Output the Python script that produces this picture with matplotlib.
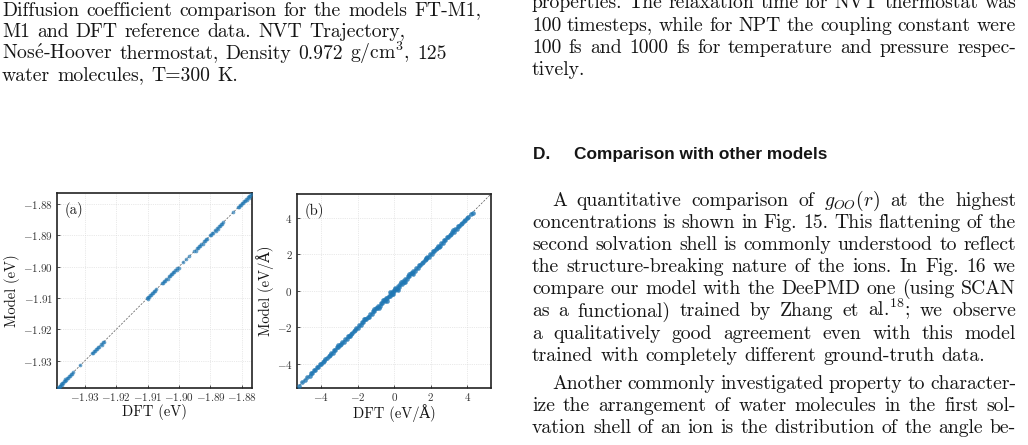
import matplotlib
matplotlib.use('Agg')
import matplotlib.pyplot as plt
from matplotlib.ticker import FuncFormatter

# ---------------- data ----------------
dft_energy = [
    -1.9385, -1.9383, -1.9380, -1.9378, -1.9376, -1.9373, -1.9371, -1.9368, -1.9366, -1.9363,
    -1.9361, -1.9358, -1.9355, -1.9352, -1.9349, -1.9346, -1.9343, -1.9339, -1.9336,
    -1.9316,
    -1.9277, -1.9274, -1.9270, -1.9267, -1.9264, -1.9260, -1.9257, -1.9253, -1.9249, -1.9246, -1.9242, -1.9238,
    -1.9103, -1.9100, -1.9098, -1.9095, -1.9092, -1.9089, -1.9086, -1.9083, -1.9080, -1.9077, -1.9074,
    -1.9054, -1.9050, -1.9047, -1.9043, -1.9040, -1.9036, -1.9033, -1.9029, -1.9026, -1.9022, -1.9019, -1.9015,
    -1.9012, -1.9008, -1.9005, -1.9001,
    -1.8988, -1.8979, -1.8968,
    -1.8951, -1.8947, -1.8943, -1.8940, -1.8936, -1.8932, -1.8929, -1.8925, -1.8921, -1.8917, -1.8913, -1.8910,
    -1.8901, -1.8898, -1.8894, -1.8891, -1.8887, -1.8884, -1.8880, -1.8877, -1.8873, -1.8869, -1.8866, -1.8862, -1.8859,
    -1.8828,
    -1.8812, -1.8809, -1.8806, -1.8803, -1.8800, -1.8797, -1.8794, -1.8791, -1.8788, -1.8785, -1.8782, -1.8779,
    -1.8776, -1.8773, -1.8771,
]
model_energy = [
    -1.9384, -1.9385, -1.9379, -1.9380, -1.9374, -1.9375, -1.9369, -1.9370, -1.9365, -1.9364,
    -1.9359, -1.9360, -1.9353, -1.9354, -1.9347, -1.9348, -1.9341, -1.9341, -1.9334,
    -1.9314,
    -1.9275, -1.9276, -1.9268, -1.9269, -1.9262, -1.9262, -1.9255, -1.9255, -1.9247, -1.9248, -1.9240, -1.9240,
    -1.9101, -1.9102, -1.9096, -1.9097, -1.9090, -1.9091, -1.9084, -1.9085, -1.9078, -1.9079, -1.9072,
    -1.9052, -1.9052, -1.9045, -1.9045, -1.9038, -1.9038, -1.9031, -1.9031, -1.9024, -1.9024, -1.9017, -1.9017,
    -1.9010, -1.9010, -1.9003, -1.9003,
    -1.8986, -1.8977, -1.8966,
    -1.8949, -1.8949, -1.8941, -1.8942, -1.8934, -1.8934, -1.8927, -1.8927, -1.8919, -1.8919, -1.8911, -1.8912,
    -1.8899, -1.8900, -1.8892, -1.8893, -1.8885, -1.8886, -1.8878, -1.8879, -1.8871, -1.8871, -1.8864, -1.8864, -1.8857,
    -1.8826,
    -1.8810, -1.8811, -1.8804, -1.8805, -1.8798, -1.8799, -1.8792, -1.8793, -1.8786, -1.8787, -1.8780, -1.8781,
    -1.8774, -1.8775, -1.8769,
]

dft_force = [
    -5.21, -5.02, -4.86, -4.74, -4.63, -4.55, -4.47, -4.38, -4.31, -4.22,
    -4.15, -4.07, -3.98, -3.91, -3.83, -3.76, -3.68, -3.59, -3.52, -3.44,
    -3.37, -3.29, -3.21, -3.14, -3.06, -2.98, -2.91, -2.83, -2.76, -2.68,
    -2.60, -2.53, -2.45, -2.38, -2.30, -2.22, -2.15, -2.07, -1.99, -1.92,
    -1.84, -1.77, -1.69, -1.61, -1.54, -1.46, -1.39, -1.31, -1.23, -1.16,
    -1.08, -1.01, -0.93, -0.86, -0.79, -0.72, -0.65, -0.58, -0.51, -0.44,
    -0.38, -0.31, -0.25, -0.18, -0.12, -0.06, 0.01, 0.07, 0.13, 0.20,
    0.26, 0.33, 0.40, 0.47, 0.54, 0.61, 0.68, 0.75, 0.83, 0.90,
    0.98, 1.05, 1.13, 1.20, 1.28, 1.36, 1.43, 1.51, 1.58, 1.66,
    1.74, 1.81, 1.89, 1.96, 2.04, 2.12, 2.19, 2.27, 2.34, 2.42,
    2.50, 2.57, 2.65, 2.73, 2.80, 2.88, 2.95, 3.03, 3.11, 3.18,
    3.26, 3.33, 3.41, 3.49, 3.56, 3.64, 3.72, 3.80, 3.88, 3.97,
    4.06, 4.17, 4.29,
    -1.12, -0.84, -0.61, -0.42, -0.22, -0.08, 0.04, 0.18, 0.37, 0.58, 0.79, 1.02,
    -3.05, -2.41, -1.63, 1.71, 2.46, 3.22,
]
model_force = [
    -5.24, -4.98, -4.89, -4.71, -4.66, -4.52, -4.50, -4.35, -4.34, -4.19,
    -4.18, -4.04, -4.01, -3.88, -3.86, -3.73, -3.71, -3.56, -3.55, -3.41,
    -3.40, -3.26, -3.24, -3.11, -3.09, -2.95, -2.94, -2.80, -2.79, -2.65,
    -2.63, -2.50, -2.48, -2.35, -2.33, -2.19, -2.18, -2.04, -2.02, -1.89,
    -1.87, -1.74, -1.72, -1.58, -1.57, -1.43, -1.42, -1.28, -1.26, -1.13,
    -1.11, -0.97, -0.96, -0.82, -0.83, -0.68, -0.69, -0.54, -0.55, -0.40,
    -0.42, -0.27, -0.29, -0.14, -0.16, -0.02, -0.03, 0.11, 0.09, 0.24,
    0.22, 0.37, 0.36, 0.51, 0.50, 0.65, 0.64, 0.79, 0.79, 0.94,
    0.94, 1.09, 1.09, 1.23, 1.25, 1.39, 1.40, 1.54, 1.55, 1.69,
    1.71, 1.84, 1.86, 1.99, 2.01, 2.15, 2.16, 2.30, 2.31, 2.45,
    2.47, 2.60, 2.62, 2.76, 2.77, 2.91, 2.92, 3.06, 3.08, 3.21,
    3.23, 3.36, 3.38, 3.52, 3.53, 3.67, 3.69, 3.83, 3.85, 4.00,
    4.03, 4.20, 4.26,
    -1.02, -0.95, -0.49, -0.55, -0.10, -0.20, 0.16, 0.06, 0.48, 0.46, 0.90, 0.92,
    -2.97, -2.49, -1.55, 1.79, 2.38, 3.30,
]

energy_ticks = [-1.93, -1.92, -1.91, -1.90, -1.89, -1.88]
energy_lims = [-1.9387, -1.8767]
force_ticks = [-4, -2, 0, 2, 4]
force_lims = [-5.33, 5.29]

caption_lines = [
    "Diffusion coefficient comparison for the models FT-M1,",
    "M1 and DFT reference data. NVT Trajectory,",
    r"Nos$\mathrm{\acute{e}}$-Hoover thermostat, Density 0.972 g/cm$^3$, 125",
    "water molecules, T=300 K.",
]
top_right_lines = [
    "properties. The relaxation time for NVT thermostat was",
    "100 timesteps, while for NPT the coupling constant were",
    "100 fs and 1000 fs for temperature and pressure respec-",
    "tively.",
]
heading_text = "D.     Comparison with other models"
para1_lines = [
    "A quantitative comparison of $g_{OO}(r)$ at the highest",
    "concentrations is shown in Fig. 15. This flattening of the",
    "second solvation shell is commonly understood to reflect",
    "the structure-breaking nature of the ions. In Fig. 16 we",
    "compare our model with the DeePMD one (using SCAN",
    "as a functional) trained by Zhang et al.$^{18}$; we observe",
    "a qualitatively good agreement even with this model",
    "trained with completely different ground-truth data.",
]
para2_lines = [
    "Another commonly investigated property to character-",
    "ize the arrangement of water molecules in the first sol-",
    "vation shell of an ion is the distribution of the angle be-",
]

# ---------------- figure ----------------
plt.rcParams['mathtext.fontset'] = 'cm'
plt.rcParams['axes.formatter.use_mathtext'] = True
SERIF = ['cmr10', 'DejaVu Serif']
plt.rcParams['font.family'] = SERIF

W, H = 1028, 445
fig = plt.figure(figsize=(W / 100, H / 100), dpi=100)
renderer = fig.canvas.get_renderer()
TXT = '#151515'
FS = 14.2


def put_line(s, x0, y, x1=None, fs=FS):
    words = s.split(' ')
    ts = [fig.text(0, 1 - y / H, w, fontsize=fs, family=SERIF, color=TXT,
                   va='baseline', ha='left') for w in words]
    ws = [t.get_window_extent(renderer).width for t in ts]
    if x1 is not None and len(words) > 1:
        gap = (x1 - x0 - sum(ws)) / (len(words) - 1)
    else:
        gap = 0.36 * fs * 100 / 72
    x = x0
    for t, w in zip(ts, ws):
        t.set_x(x / W)
        x += w + gap


# left caption (ragged right)
for i, s in enumerate(caption_lines):
    put_line(s, 2, 15.5 + 21.9 * i)

# right column top
RX0, RX1 = 532, 1016
for i, s in enumerate(top_right_lines):
    put_line(s, RX0, 8.5 + 22.1 * i, RX1 if i < 3 else None)

# heading as a single text so both parts share one baseline
fig.text(533 / W, 1 - 158.5 / H, heading_text, family='Liberation Sans', weight='bold',
         fontsize=12.4, color=TXT, va='baseline', ha='left')

# paragraphs
for i, s in enumerate(para1_lines):
    x0 = 552 if i == 0 else RX0
    put_line(s, x0, 206 + 22.1 * i, RX1 if i < len(para1_lines) - 1 else None)
for i, s in enumerate(para2_lines):
    x0 = 552 if i == 0 else RX0
    put_line(s, x0, 389 + 22.1 * i, RX1)

# ---------------- plots ----------------
axA = fig.add_axes([57.3 / W, 1 - 388.3 / H, 195 / W, 195 / H])
axB = fig.add_axes([296.7 / W, 1 - 388 / H, 194.3 / W, 194 / H])

BLUE = '#1f77b4'
axA.scatter(dft_energy, model_energy, s=7, color=BLUE, alpha=0.65, linewidths=0, zorder=3)
axA.plot(energy_lims, energy_lims, ls=(0, (3, 2)), color='#555555', lw=0.5, zorder=2)
axB.scatter(dft_force, model_force, s=11, color=BLUE, alpha=0.8, linewidths=0, zorder=3)
axB.plot(force_lims, force_lims, ls=(0, (3, 2)), color='#555555', lw=0.5, zorder=2)

axA.set_xlim(energy_lims); axA.set_ylim(energy_lims)
axB.set_xlim(force_lims); axB.set_ylim(force_lims)
axA.set_xticks(energy_ticks); axA.set_yticks(energy_ticks)
axB.set_xticks(force_ticks); axB.set_yticks(force_ticks)
fmtA = FuncFormatter(lambda v, p: f'${v:.2f}$')
fmtB = FuncFormatter(lambda v, p: f'${v:.0f}$')
axA.xaxis.set_major_formatter(fmtA); axA.yaxis.set_major_formatter(fmtA)
axB.xaxis.set_major_formatter(fmtB); axB.yaxis.set_major_formatter(fmtB)

axA.set_xlabel('DFT (eV)', fontsize=10.5, labelpad=1, color=TXT)
axA.set_ylabel('Model (eV)', fontsize=10.5, labelpad=2, color=TXT)
axB.set_xlabel('DFT (eV/Å)', fontsize=10.5, labelpad=1, color=TXT)
axB.set_ylabel('Model (eV/Å)', fontsize=10.5, labelpad=2, color=TXT)
axA.text(0.04, 0.955, '(a)', transform=axA.transAxes, fontsize=10.5, va='top', color=TXT)
axB.text(0.04, 0.955, '(b)', transform=axB.transAxes, fontsize=10.5, va='top', color=TXT)

for ax in (axA, axB):
    ax.grid(True, color='#d5d5d5', lw=0.5, ls=':')
    ax.set_axisbelow(True)
    ax.tick_params(direction='in', length=2.5, width=0.6, labelsize=8.0, pad=2,
                   colors='#333333')
    ax.tick_params(axis='y', pad=3)
    for sp in ax.spines.values():
        sp.set_linewidth(1.2)
        sp.set_color('#222222')

fig.savefig('out.png', dpi=100)
